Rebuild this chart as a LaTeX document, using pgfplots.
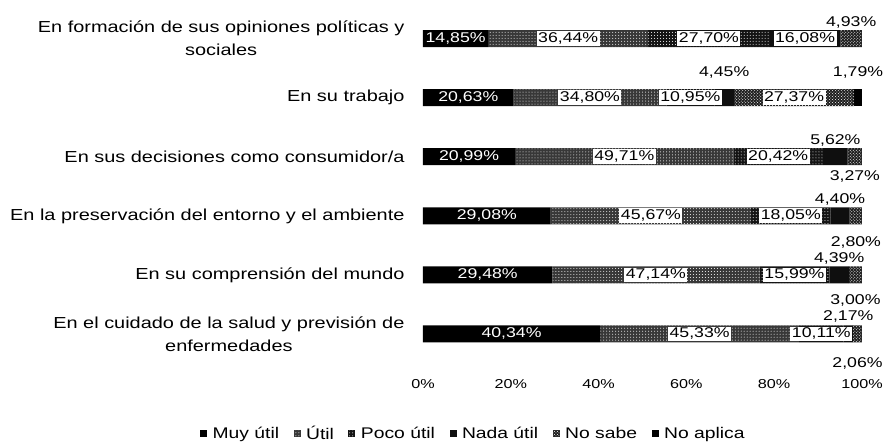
\documentclass[border=0pt]{standalone}
\usepackage{fontspec}
\setmainfont[FakeStretch=1.25]{Liberation Sans}
\usepackage{pgfplots}
\pgfplotsset{compat=1.18}
\usetikzlibrary{patterns}
\newcommand\lf{\fontsize{14.2}{16}\selectfont}
\pgfplotsset{sq/.style={legend image code/.code={\fill[##1] (0bp,-3.5bp) rectangle (7bp,3.5bp);}}}
\begin{document}
\begin{tikzpicture}
\begin{axis}[name=ax, scale only axis, width=439bp, height=366.3bp,
  xmin=0, xmax=100, ymin=-0.6, ymax=5.6, y dir=reverse,
  xbar stacked, bar width=17bp,
  axis line style={draw=none}, major tick length=0pt,
  xtick={0,20,40,60,80,100},
  xticklabels={0\%,20\%,40\%,60\%,80\%,100\%},
  xticklabel style={font=\fontsize{13}{15}\selectfont, yshift=-7bp},
  ytick={0,1,2,3,4,5},
  yticklabels={{En formación de sus opiniones políticas y\\sociales},
    {En su trabajo},
    {En sus decisiones como consumidor/a},
    {En la preservación del entorno y el ambiente},
    {En su comprensión del mundo},
    {En el cuidado de la salud y previsión de\\enfermedades}},
  yticklabel style={align=center, font=\fontsize{16}{23}\selectfont, xshift=-15bp},
  legend columns=6,
  legend style={draw=none, at={(-0.515,-0.176)}, anchor=west,
    font=\fontsize{15.5}{18}\selectfont,
    /tikz/every odd column/.append style={column sep=4bp},
    /tikz/every even column/.append style={column sep=13bp},
    nodes={inner sep=1.5bp}},
  ]
\addplot[fill=black, draw=none, sq]
  coordinates {(14.85,0) (20.63,1) (20.99,2) (29.08,3) (29.48,4) (40.34,5)};
\addlegendentry{Muy útil}
\addplot[fill=black!78, draw=none, postaction={pattern=dots, pattern color=white}, sq]
  coordinates {(36.44,0) (34.80,1) (49.71,2) (45.67,3) (47.14,4) (45.33,5)};
\addlegendentry{Útil}
\addplot[fill=black!92, draw=none, postaction={pattern=dots, pattern color=white}, sq]
  coordinates {(27.70,0) (10.95,1) (20.42,2) (18.05,3) (15.99,4) (10.11,5)};
\addlegendentry{Poco útil}
\addplot[fill=black!94, draw=none, sq]
  coordinates {(16.08,0) (4.45,1) (5.62,2) (4.40,3) (4.39,4) (2.17,5)};
\addlegendentry{Nada útil}
\addplot[fill=black!88, draw=none, postaction={pattern=crosshatch dots, pattern color=white}, sq]
  coordinates {(4.93,0) (27.37,1) (3.27,2) (2.80,3) (3.00,4) (2.06,5)};
\addlegendentry{No sabe}
\addplot[fill=black, draw=none, sq]
  coordinates {(0,0) (1.79,1) (0,2) (0,3) (0,4) (0,5)};
\addlegendentry{No aplica}
\end{axis}
\begin{axis}[scale only axis, width=439bp, height=366.3bp,
  xmin=0, xmax=100, ymin=-0.6, ymax=5.6, y dir=reverse, hide axis,
  point meta=explicit symbolic]
\addplot[only marks, mark=none, nodes near coords,
  nodes near coords style={anchor=center, text=white, font=\lf}]
  coordinates {(7.425,0) [14,85\%] (10.315,1) [20,63\%] (10.495,2) [20,99\%]
    (14.54,3) [29,08\%] (14.74,4) [29,48\%] (20.17,5) [40,34\%]};
\addplot[only marks, mark=none, nodes near coords,
  nodes near coords style={anchor=center, fill=white, inner sep=1.5bp, text=black, font=\lf}]
  coordinates {(33.07,0) [36,44\%] (38.03,1) [34,80\%] (45.845,2) [49,71\%]
    (51.915,3) [45,67\%] (53.05,4) [47,14\%] (63.005,5) [45,33\%]
    (65.14,0) [27,70\%] (60.905,1) [10,95\%] (80.91,2) [20,42\%]
    (83.775,3) [18,05\%] (84.615,4) [15,99\%] (90.725,5) [10,11\%]
    (87.03,0) [16,08\%] (84.515,1) [27,37\%]};
\addplot[only marks, mark=none, nodes near coords,
  nodes near coords style={anchor=center, text=black, font=\lf}]
  coordinates {(97.535,-0.28) [4,93\%] (68.605,0.58) [4,45\%] (99.095,0.58) [1,79\%]
    (93.93,1.72) [5,62\%] (95.0,2.72) [4,40\%] (94.805,3.72) [4,39\%] (96.865,4.7) [2,17\%]
    (98.375,2.34) [3,27\%] (98.6,3.45) [2,80\%] (98.5,4.43) [3,00\%] (98.98,5.5) [2,06\%]};
\end{axis}
\path ([shift={(-423bp,-71.6bp)}]ax.south west) rectangle ([shift={(26bp,3.1bp)}]ax.north east);
\end{tikzpicture}
\end{document}
